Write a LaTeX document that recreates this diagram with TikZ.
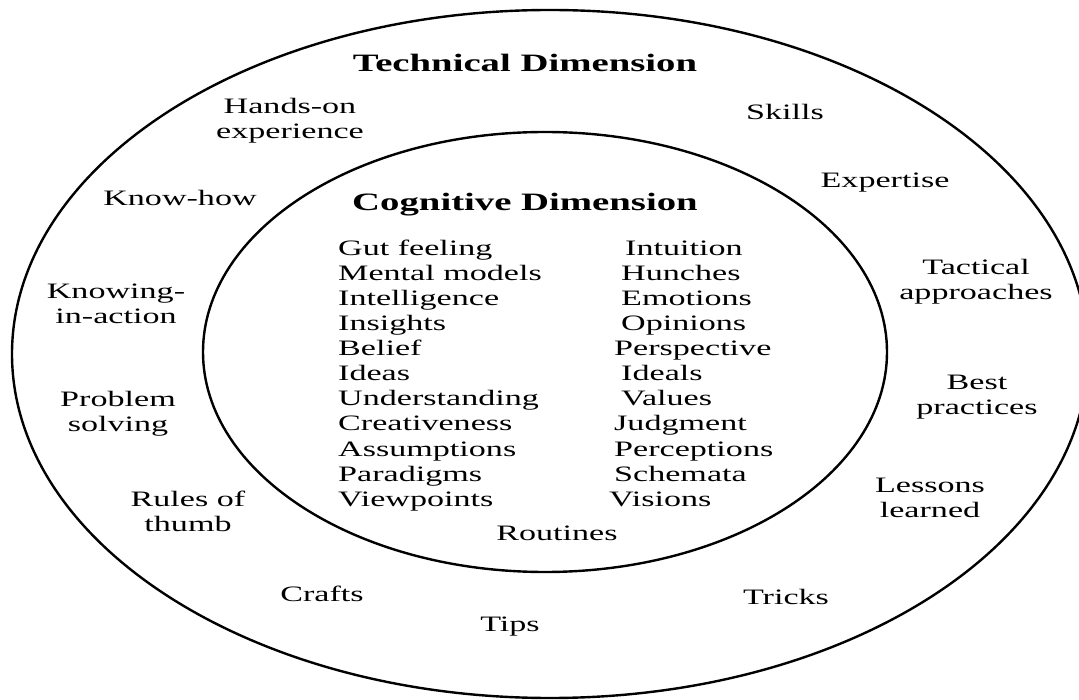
\documentclass[tikz,border=0pt]{standalone}
\usepackage{fontspec}
\setmainfont{Liberation Serif}[FakeStretch=1.55]
\begin{document}
\begin{tikzpicture}[x=1pt,y=-1pt,
  lab/.style={align=center,inner sep=0pt,font=\fontsize{22}{25}\selectfont},
  item/.style={anchor=base west,inner sep=0pt,font=\fontsize{22}{25}\selectfont},
  ttl/.style={inner sep=0pt,font=\fontsize{25}{28}\selectfont\bfseries},
  ring/.style={line width=2.4pt}]
\useasboundingbox (0,0) rectangle (1079,700);
\begin{scope}
\clip (0,0) rectangle (1079,700);
\draw[ring] (550,354) ellipse [x radius=538, y radius=344];
\draw[ring] (545,352) ellipse [x radius=342, y radius=220];
\end{scope}
% titles
\node[ttl] (tech) at (525,63) {Technical Dimension};
\node[ttl] (cog) at (525,205) {Cognitive Dimension};
% outer ring labels
\node[lab] (handson) at (290,121) {Hands-on\\experience};
\node[lab] (skills) at (785,112) {Skills};
\node[lab] (knowhow) at (180,198) {Know-how};
\node[lab] (expertise) at (885,183) {Expertise};
\node[lab] (knowing) at (116,304) {Knowing-\\in-action};
\node[lab] (tactical) at (976,282) {Tactical\\approaches};
\node[lab] (problem) at (118,414) {Problem\\solving};
\node[lab] (best) at (977,397) {Best\\practices};
\node[lab] (rules) at (188,511) {Rules of\\thumb};
\node[lab] (lessons) at (930,498) {Lessons\\learned};
\node[lab] (crafts) at (322,594) {Crafts};
\node[lab] (tricks) at (786,597) {Tricks};
\node[lab] (tips) at (510,627) {Tips};
% inner list, left column
\node[item] (l1) at (338,256) {Gut feeling};
\node[item] (l2) at (338,281) {Mental models};
\node[item] (l3) at (338,306) {Intelligence};
\node[item] (l4) at (338,331) {Insights};
\node[item] (l5) at (338,356) {Belief};
\node[item] (l6) at (338,381) {Ideas};
\node[item] (l7) at (338,406) {Understanding};
\node[item] (l8) at (338,431) {Creativeness};
\node[item] (l9) at (338,456) {Assumptions};
\node[item] (l10) at (338,481) {Paradigms};
\node[item] (l11) at (338,506) {Viewpoints};
% inner list, right column
\node[item] (r1) at (625,256) {Intuition};
\node[item] (r2) at (621,281) {Hunches};
\node[item] (r3) at (621,306) {Emotions};
\node[item] (r4) at (621,331) {Opinions};
\node[item] (r5) at (614,356) {Perspective};
\node[item] (r6) at (621,381) {Ideals};
\node[item] (r7) at (621,406) {Values};
\node[item] (r8) at (614,431) {Judgment};
\node[item] (r9) at (614,456) {Perceptions};
\node[item] (r10) at (614,481) {Schemata};
\node[item] (r11) at (609,506) {Visions};
\node[lab] (routines) at (557,533) {Routines};
\end{tikzpicture}
\end{document}
